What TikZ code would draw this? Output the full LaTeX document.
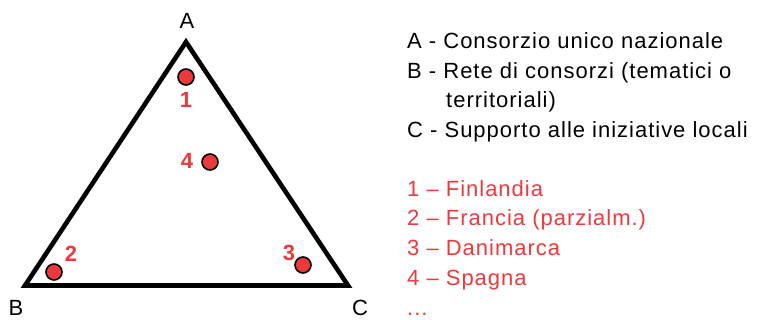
\documentclass[tikz,border=0pt]{standalone}
\usepackage{fontspec}
\setmainfont{Liberation Sans}[LetterSpace=4.5]
\newfontfamily\plainfont{Liberation Sans}
\definecolor{myred}{RGB}{236,58,60}
\begin{document}
\begin{tikzpicture}[x=1pt,y=-1pt,
  tri/.style={line width=4.6pt, line join=miter, black},
  dot/.style={circle, fill=myred, draw=black, line width=1.6pt, minimum size=16pt, inner sep=0pt},
  num/.style={text=myred, font=\plainfont\fontsize{22}{22}\selectfont\bfseries, inner sep=0pt},
  vtx/.style={font=\plainfont\fontsize{22}{22}\selectfont, inner sep=0pt},
  leg/.style={anchor=base west, inner sep=0pt, font=\fontsize{22}{22}\selectfont},
  legr/.style={leg, text=myred}]
\useasboundingbox (0,0) rectangle (758,320);
\coordinate (A) at (186,42);
\coordinate (B) at (25,285.5);
\coordinate (C) at (348,285.5);
\draw[tri] (A) -- (B) -- (C) -- cycle;
\node[vtx] (la) at (187,21) {A};
\node[vtx] (lb) at (16,308) {B};
\node[vtx] (lc) at (360,308) {C};
\node[dot] (d1) at (186,77) {};
\node[dot] (d4) at (210,162) {};
\node[dot] (d2) at (54,272) {};
\node[dot] (d3) at (303,265) {};
\node[num] (n1) at (186,100) {1};
\node[num] (n4) at (187,161) {4};
\node[num] (n2) at (71,254) {2};
\node[num] (n3) at (289,253) {3};
\node[leg] (t1) at (407,49) {A - Consorzio unico nazionale};
\node[leg] (t2) at (407,79) {B - Rete di consorzi (tematici o};
\node[leg] (t3) at (446,108) {territoriali)};
\node[leg] (t4) at (407,138) {C - Supporto alle iniziative locali};
\node[legr] (r1) at (407,197) {1 – Finlandia};
\node[legr] (r2) at (407,226) {2 – Francia (parzialm.)};
\node[legr] (r3) at (407,256) {3 – Danimarca};
\node[legr] (r4) at (407,286) {4 – Spagna};
\node[legr] (r5) at (407,316) {...};
\end{tikzpicture}
\end{document}
